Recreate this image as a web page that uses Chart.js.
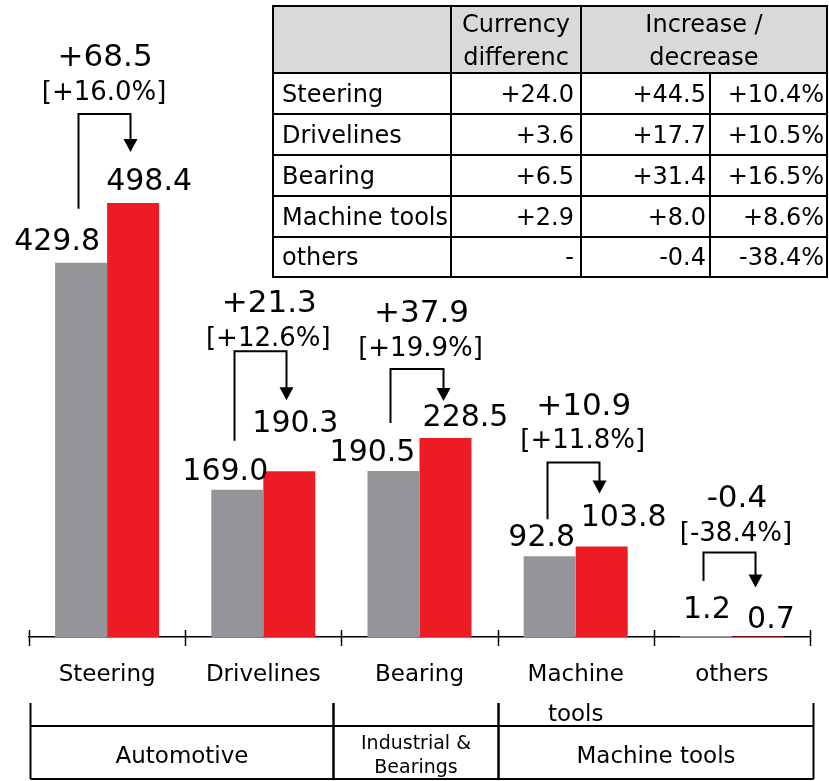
<!DOCTYPE html>
<html>
<head>
<meta charset="utf-8">
<script src="https://cdn.jsdelivr.net/npm/chart.js@4"></script>
<style>
  body { margin: 0; background: #fff; }
</style>
</head>
<body>
<canvas id="segmentChart" width="829" height="781"></canvas>
<script>
// SALES BY SEGMENT, PREVIOUS vs CURRENT

const segments = ["Steering", "Drivelines", "Bearing", "Machine tools", "others"];
const tickLabels = ["Steering", "Drivelines", "Bearing", ["Machine", "tools"], "others"];
const prevSales = [429.8, 169.0, 190.5, 92.8, 1.2];
const currSales = [498.4, 190.3, 228.5, 103.8, 0.7];
const changeAmount = ["+68.5", "+21.3", "+37.9", "+10.9", "-0.4"];
const changeRate = ["[+16.0%]", "[+12.6%]", "[+19.9%]", "[+11.8%]", "[-38.4%]"];

// breakdown table
const currencyDiff = ["+24.0", "+3.6", "+6.5", "+2.9", "-"];
const netChange = ["+44.5", "+17.7", "+31.4", "+8.0", "-0.4"];
const netRate = ["+10.4%", "+10.5%", "+16.5%", "+8.6%", "-38.4%"];

// business groups under the axis (category index ranges)
const groups = [
  { label: ["Automotive"], from: 0, to: 2 },
  { label: ["Industrial &", "Bearings"], from: 2, to: 3 },
  { label: ["Machine tools"], from: 3, to: 5 },
];

const GRAY = "#939598";
const RED = "#ed1c24";
const FONT = '"DejaVu Sans", sans-serif';

// hand placement of the value labels and arrows, in px relative to the bars
const place = [
  { gdx: -24, ggap: 13, rdx: 16, rgap: 13, leg: 19, tip: 16, rise: 38, rate: 26, tdx: -2 },
  { gdx: -12, ggap: 10, rdx: 6, rgap: 39, leg: 17, tip: 10, rise: 49, rate: 17, tdx: 6 },
  { gdx: -21, ggap: 10, rdx: 20, rgap: 12, leg: 16, tip: 3, rise: 32, rate: 25, tdx: 2 },
  { gdx: -8, ggap: 10, rdx: 22, rgap: 21, leg: 5, tip: 10, rise: 31, rate: 26, tdx: 8 },
  { gdx: 1, ggap: 18, rdx: 13, rgap: 8, leg: 15, tip: 19, rise: 35, rate: 23, tdx: 5 },
];

function line(ctx, x1, y1, x2, y2) {
  ctx.beginPath();
  ctx.moveTo(x1, y1);
  ctx.lineTo(x2, y2);
  ctx.stroke();
}

const annotations = {
  id: "annotations",
  afterDatasetsDraw(chart) {
    const { ctx, chartArea } = chart;
    const x = chart.scales.x;
    const prevBars = chart.getDatasetMeta(0).data;
    const currBars = chart.getDatasetMeta(1).data;
    const base = chartArea.bottom;

    ctx.save();
    ctx.strokeStyle = "#000";
    ctx.fillStyle = "#000";

    // tick marks between categories
    const step = x.getPixelForValue(1) - x.getPixelForValue(0);
    const first = x.getPixelForValue(0) - step / 2;
    ctx.lineWidth = 1.5;
    for (let i = 0; i <= segments.length; i++) {
      const bx = Math.round(first + i * step) + 0.5;
      line(ctx, bx, base - 7, bx, base + 9);
    }

    segments.forEach((seg, i) => {
      const p = place[i];
      const g = prevBars[i];
      const r = currBars[i];

      // value labels
      ctx.font = "30px " + FONT;
      ctx.textAlign = "center";
      ctx.textBaseline = "alphabetic";
      const gBase = g.y - p.ggap;
      const rBase = r.y - p.rgap;
      ctx.fillText(prevSales[i].toFixed(1), g.x + p.gdx, gBase);
      ctx.fillText(currSales[i].toFixed(1), r.x + p.rdx, rBase);

      // bent arrow from previous to current
      const lx = Math.round(g.x - 3) + 0.5;
      const rx = Math.round(r.x - 3) + 0.5;
      const legBottom = gBase - 22 - p.leg;
      const tipY = rBase - 22 - p.tip;
      const topY = tipY - p.rise;
      ctx.lineWidth = 2;
      ctx.beginPath();
      ctx.moveTo(lx, legBottom);
      ctx.lineTo(lx, topY);
      ctx.lineTo(rx, topY);
      ctx.lineTo(rx, tipY - 12);
      ctx.stroke();
      ctx.beginPath();
      ctx.moveTo(rx - 7, tipY - 13);
      ctx.lineTo(rx + 7, tipY - 13);
      ctx.lineTo(rx, tipY);
      ctx.closePath();
      ctx.fill();

      // change amount and rate
      const cx = x.getPixelForValue(i) + p.tdx;
      ctx.textBaseline = "middle";
      ctx.font = "26px " + FONT;
      ctx.fillText(changeRate[i], cx - 1, topY - p.rate + 5);
      ctx.font = "31px " + FONT;
      ctx.fillText(changeAmount[i], cx, topY - p.rate - 30);
    });

    // group boxes under the axis
    const gx = (k) => Math.round(first + k * step) + 0.5;
    const left = gx(0) + 1;
    const right = gx(segments.length) + 3;
    ctx.lineWidth = 2;
    line(ctx, left, 726, right, 726);
    line(ctx, left, 779, right, 779);
    groups.forEach((grp, k) => {
      const a = k === 0 ? left : gx(grp.from) - (grp.from === 2 ? 8 : 0);
      const b = grp.to === segments.length ? right : gx(grp.to) - (grp.to === 2 ? 8 : 0);
      line(ctx, a, 703, a, 779);
      line(ctx, b, 703, b, 779);
      ctx.textAlign = "center";
      ctx.textBaseline = "middle";
      if (grp.label.length === 1) {
        ctx.font = "23px " + FONT;
        ctx.fillText(grp.label[0], (a + b) / 2, 757);
      } else {
        ctx.font = "19px " + FONT;
        ctx.fillText(grp.label[0], (a + b) / 2, 744);
        ctx.fillText(grp.label[1], (a + b) / 2, 768);
      }
    });

    // breakdown table, top right
    const cols = [273, 451, 581, 710, 827];
    const rows = [6, 73, 114, 155, 196, 237, 277];
    ctx.fillStyle = "#d9d9d9";
    ctx.fillRect(cols[0], rows[0], cols[4] - cols[0], rows[1] - rows[0]);
    ctx.fillStyle = "#000";
    ctx.lineWidth = 2;
    ctx.strokeRect(cols[0], rows[0], cols[4] - cols[0], rows[6] - rows[0]);
    for (let k = 1; k < rows.length - 1; k++) line(ctx, cols[0], rows[k], cols[4], rows[k]);
    line(ctx, cols[1], rows[0], cols[1], rows[6]);
    line(ctx, cols[2], rows[0], cols[2], rows[6]);
    line(ctx, cols[3], rows[1], cols[3], rows[6]);

    ctx.font = "24px " + FONT;
    ctx.textBaseline = "middle";
    ctx.textAlign = "center";
    ctx.fillText("Currency", (cols[1] + cols[2]) / 2, 26);
    ctx.fillText("differenc", (cols[1] + cols[2]) / 2, 59);
    ctx.fillText("Increase /", (cols[2] + cols[4]) / 2, 26);
    ctx.fillText("decrease", (cols[2] + cols[4]) / 2, 59);

    segments.forEach((seg, i) => {
      const cy = (rows[i + 1] + rows[i + 2]) / 2 + 2;
      ctx.textAlign = "left";
      ctx.fillText(seg, cols[0] + 9, cy, cols[1] - cols[0] - 11);
      ctx.textAlign = "right";
      ctx.fillText(currencyDiff[i], cols[2] - 7, cy);
      ctx.fillText(netChange[i], cols[3] - 4, cy);
      ctx.fillText(netRate[i], cols[4] - 3, cy);
    });

    ctx.restore();
  },
};

const segmentCtx = document.getElementById("segmentChart");

new Chart(segmentCtx, {
  type: "bar",
  data: {
    labels: tickLabels,
    datasets: [
      {
        label: "Previous",
        data: prevSales,
        backgroundColor: GRAY,
        categoryPercentage: 0.666,
        barPercentage: 1.0,
      },
      {
        label: "Current",
        data: currSales,
        backgroundColor: RED,
        categoryPercentage: 0.666,
        barPercentage: 1.0,
      },
    ],
  },
  options: {
    responsive: false,
    animation: false,
    layout: { padding: { top: 10, left: 29, right: 19, bottom: 0 } },
    plugins: {
      legend: { display: false },
      tooltip: { enabled: false },
    },
    scales: {
      x: {
        grid: { display: false, drawTicks: false },
        border: { display: true, color: "#000", width: 1.5 },
        ticks: {
          color: "#000",
          padding: 18,
          autoSkip: false,
          maxRotation: 0,
          font: { family: FONT, size: 23, lineHeight: "40px" },
        },
        afterFit: (scale) => {
          scale.height = 144;
        },
      },
      y: {
        display: false,
        min: 0,
        max: 720,
      },
    },
  },
  plugins: [annotations],
});
</script>
</body>
</html>
